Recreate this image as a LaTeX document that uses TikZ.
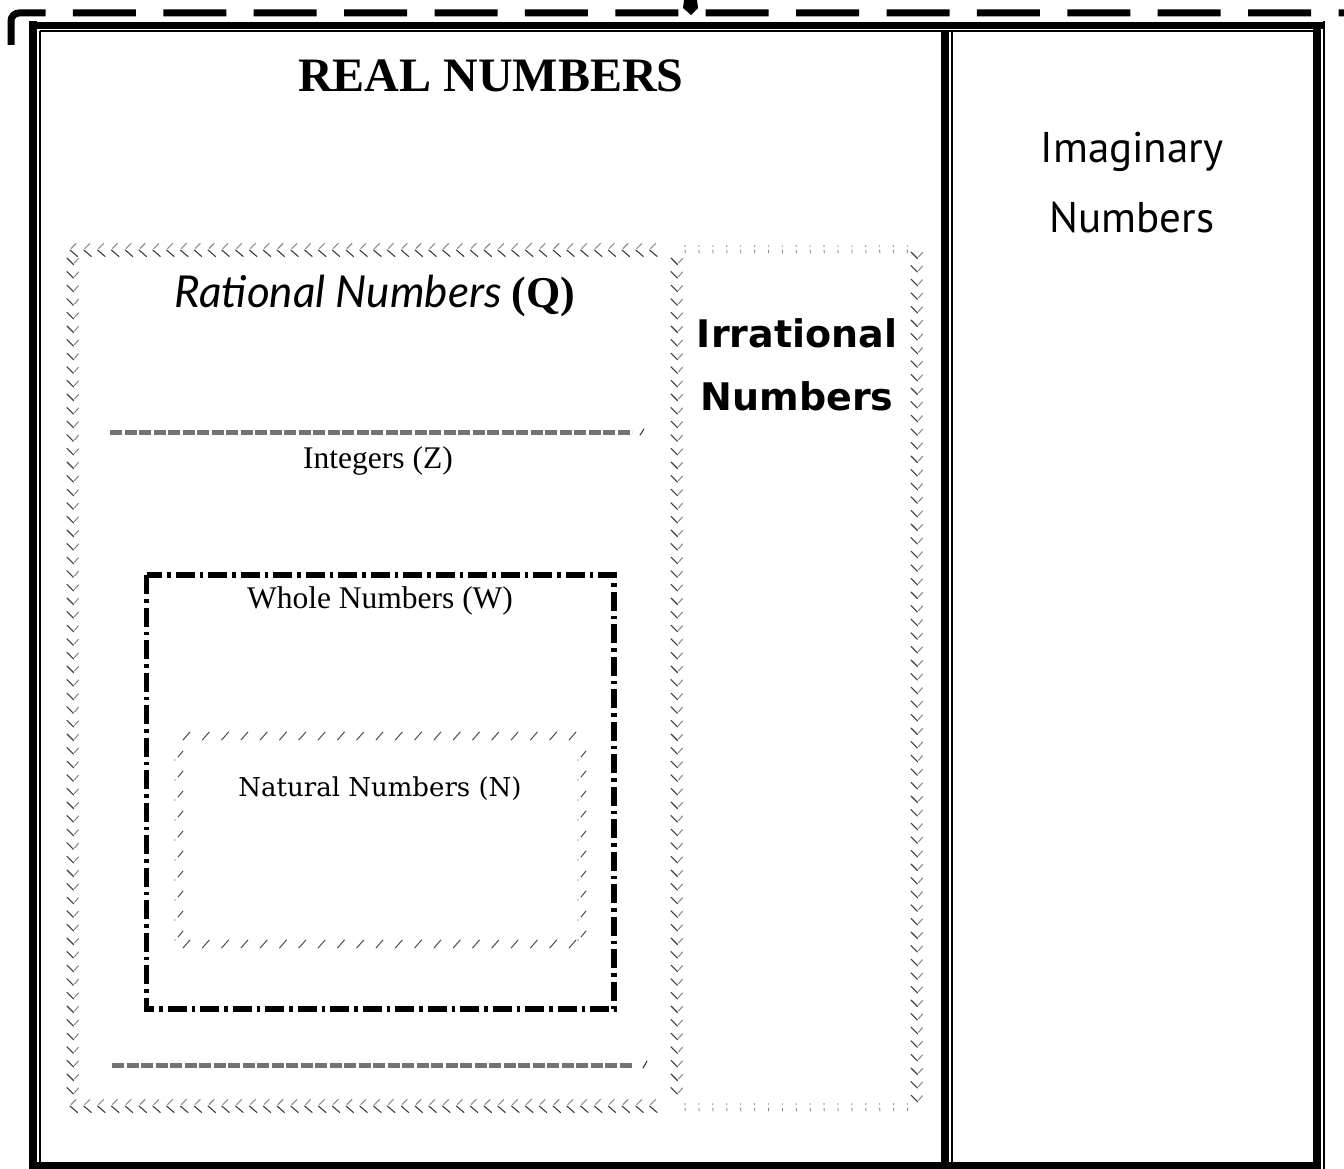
\documentclass[tikz,border=0pt]{standalone}
\usepackage{fontspec}
\setmainfont{Liberation Serif}
\newfontfamily\titlefont{Liberation Serif}
\newfontfamily\handfont{Lato}
\newfontfamily\funfont{DejaVu Sans}
\newfontfamily\comicfont{PT Sans}
\newfontfamily\natfont{DejaVu Serif}
\usetikzlibrary{positioning}
\definecolor{zigdark}{RGB}{60,60,60}
\definecolor{ziglight}{RGB}{140,140,140}
% chevron rows: y, first x, count
\newcommand{\hzig}[3]{%
  \foreach \i [evaluate=\i as \zx using #2+\i*13.8] in {0,...,#3}{
    \draw[zigd] (\zx,#1) -- ++(7.5,6.5);
    \draw[zigl] (\zx+1,#1-1.5) -- ++(5,-5);
  }}
% chevron columns: x, first y, count
\newcommand{\vzig}[3]{%
  \foreach \i [evaluate=\i as \zy using #2+\i*13.6] in {0,...,#3}{
    \draw[zigd] (#1-5,\zy) -- ++(6.5,6.5);
    \draw[zigl] (#1+2.5,\zy+5) -- ++(4,-4.5);
  }}
% sparse dots: y, first x, count
\newcommand{\dotrow}[3]{%
  \foreach \i [evaluate=\i as \dx using #2+\i*13.9] in {0,...,#3}{
    \fill[ziglight] (\dx,#1-2) circle (0.8);
    \draw[zigl, line width=0.9pt] (\dx,#1+2) -- ++(0.3,3);
  }}

\begin{document}
\begin{tikzpicture}[x=1pt, y=-1pt,
    zigd/.style={draw=zigdark, line width=1.1pt, line cap=round},
    zigl/.style={draw=ziglight, line width=1.1pt, line cap=round},
    thickrule/.style={line width=7.5pt},
    thinrule/.style={line width=2pt},
    wholeline/.style={line width=5.5pt, dash pattern=on 19pt off 5pt on 3.5pt off 5pt},
    intband/.style={draw=black!55, line width=5pt, dash pattern=on 12pt off 2.5pt},
    natmark/.style={draw=gray!60!black, line width=1pt, line cap=round}
  ]
    \useasboundingbox (0,0) rectangle (1344,1169);

    % dashed strip and tip at the top
    \draw[line width=7pt, dash pattern=on 63pt off 27.4pt, rounded corners=8pt]
      (11,45) -- (11,13) -- (1344,13);
    \fill (684,0) -- (697,0) -- (698,8) -- (691,15) -- (683,8) -- cycle;

    % double frame of the two cells
    \draw[thickrule] (29,25.3) -- (1325,25.3);
    \draw[thinrule] (40,31.5) -- (1313,31.5);
    \draw[thickrule] (32.8,21.5) -- (32.8,1169);
    \draw[thinrule] (40,31) -- (40,1169);
    \draw[thickrule] (945,31) -- (945,1163);
    \draw[thinrule] (951.7,31) -- (951.7,1169);
    \draw[thickrule] (1317,29) -- (1317,1169);
    \draw[thinrule] (1323.5,21.5) -- (1323.5,1169);
    \draw[thickrule] (36,1166) -- (1321,1166);

    % rational box
    \hzig{250}{70}{42}
    \hzig{1106}{70}{42}
    \vzig{72}{258}{61}
    \vzig{676}{258}{61}
    % irrational box
    \dotrow{248}{685}{16}
    \dotrow{1106}{685}{16}
    \vzig{916}{252}{62}

    % integers
    \draw[intband] (110,432) -- (632,432);
    \draw[zigd] (640,435) -- (644,429);
    \draw[intband] (112,1065) -- (632,1065);
    \draw[zigd] (643,1068) -- (647,1061);

    % whole numbers
    \draw[wholeline] (146.5,575) rectangle (614,1009);

    % natural numbers
    \foreach \i [evaluate=\i as \nx using 183+\i*19.3] in {0,...,20}{
      \draw[natmark] (\nx,740) -- ++(7,-8);
      \draw[natmark] (\nx,948) -- ++(7,-8);
    }
    \foreach \i [evaluate=\i as \ny using 752+\i*20] in {0,...,9}{
      \draw[natmark] (178,\ny+5) -- ++(5,-6);
      \fill[zigdark] (175,\ny+8) circle (0.7);
      \draw[natmark] (581,\ny+5) -- ++(5,-6);
      \fill[zigdark] (578,\ny+8) circle (0.7);
    }

    % labels
    \node[font=\titlefont\bfseries\fontsize{48}{56}\selectfont, anchor=base]
      (realhead) at (491,92) {REAL NUMBERS};
    \node[font=\comicfont\fontsize{43}{50}\selectfont, anchor=base]
      (imagtop) at (1132,163) {Imaginary};
    \node[font=\comicfont\fontsize{43}{50}\selectfont, anchor=base]
      (imagbot) at ([yshift=-70pt]imagtop.base) {Numbers};
    \node[font=\handfont\itshape\fontsize{44}{52}\selectfont, anchor=base]
      (ratlabel) at (375,307) {Rational Numbers {\rmfamily\upshape\bfseries (Q)}};
    \node[font=\funfont\bfseries\fontsize{38}{46}\selectfont, anchor=base]
      (irrtop) at (797,347) {Irrational};
    \node[font=\funfont\bfseries\fontsize{38}{46}\selectfont, anchor=base]
      (irrbot) at ([yshift=-63pt]irrtop.base) {Numbers};
    \node[font=\fontsize{31.5}{38}\selectfont, anchor=base]
      (intlabel) at (378,468) {Integers (Z)};
    \node[font=\fontsize{31.5}{38}\selectfont, anchor=base]
      (wholelabel) at (380,608) {Whole Numbers (W)};
    \node[font=\natfont\fontsize{26}{32}\selectfont, anchor=base]
      (natlabel) at (380,796) {Natural Numbers (N)};
  \end{tikzpicture}
\end{document}
